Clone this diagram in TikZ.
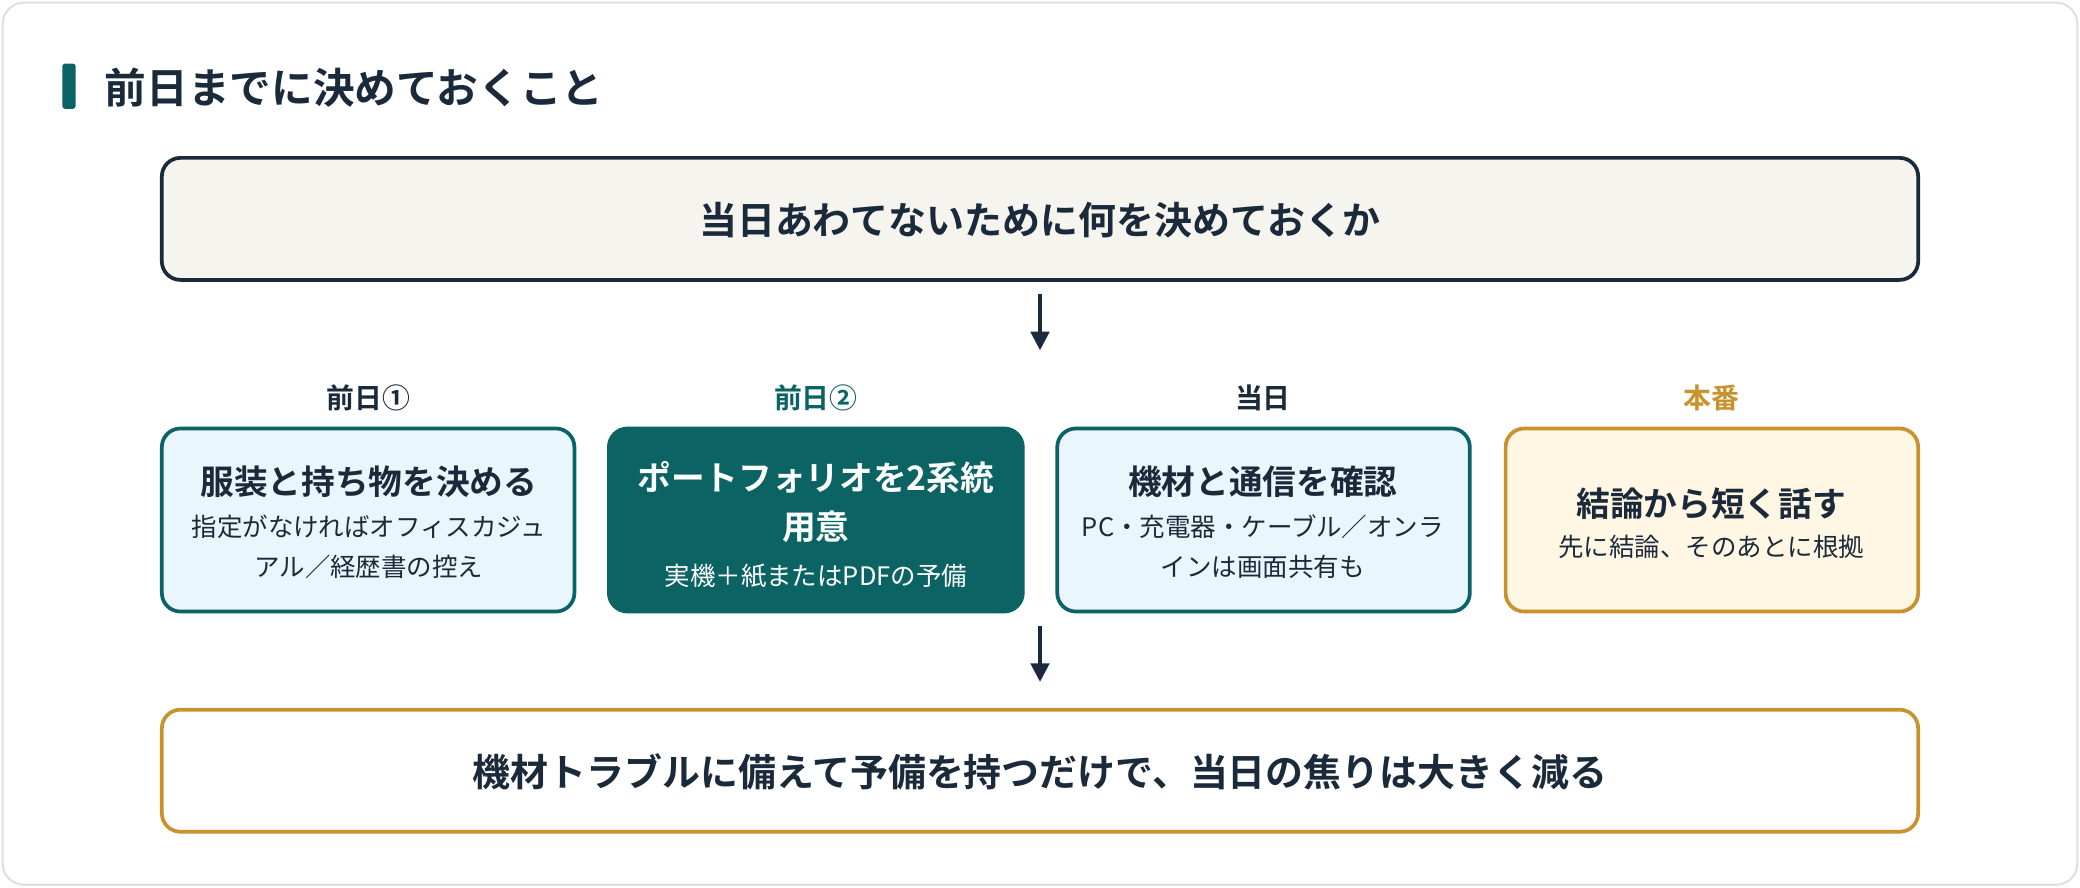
\documentclass[tikz,border=0pt]{standalone}
\usepackage{fontspec}
\setmainfont{Noto Sans CJK JP}[BoldFont={* Bold}]
\usetikzlibrary{arrows.meta}
\definecolor{navy}{HTML}{1B2A3A}
\definecolor{teal}{HTML}{0B6363}
\definecolor{gold}{HTML}{C8922E}
\definecolor{lblue}{HTML}{E9F7FC}
\definecolor{cream}{HTML}{FFF6E3}
\definecolor{grayf}{HTML}{F5F4EF}
\begin{document}
\begin{tikzpicture}[x=0.5pt,y=-0.5pt,
 box/.style={rounded corners=7pt,line width=1.4pt},
 ttl/.style={font=\bfseries\fontsize{12.7}{15}\selectfont,text=navy},
 sub/.style={font=\fontsize{9.6}{15}\selectfont,text=navy},
 lab/.style={font=\bfseries\fontsize{10.5}{12}\selectfont},
 arr/.style={-{Triangle[length=7pt,width=7pt]},line width=1.3pt,draw=navy}]
\useasboundingbox (0,0) rectangle (1568,669);
\draw[rounded corners=8pt,draw=black!12,fill=white,line width=0.8pt] (2,2) rectangle (1566,667);
\fill[teal,rounded corners=1pt] (47,48) rectangle (57,82);
\node[anchor=west,font=\bfseries\fontsize{15.7}{18}\selectfont,text=navy] (h) at (72,66) {前日までに決めておくこと};
\draw[box,draw=navy,fill=grayf] (122,119) rectangle (1446,211);
\node[font=\bfseries\fontsize{14.3}{17}\selectfont,text=navy] (top) at (784,166) {当日あわてないために何を決めておくか};
\coordinate (a1) at (784,222); \coordinate (a2) at (784,264);
\draw[arr] (a1) -- (a2);
\node[lab,text=navy] (l1) at (278,300) {前日①};
\node[lab,text=teal] (l2) at (615,300) {前日②};
\node[lab,text=navy] (l3) at (952,300) {当日};
\node[lab,text=gold] (l4) at (1290,300) {本番};
\draw[box,draw=teal,fill=lblue] (122,323) rectangle (433,461);
\draw[box,draw=teal,fill=teal] (459,323) rectangle (771,461);
\draw[box,draw=teal,fill=lblue] (797,323) rectangle (1108,461);
\draw[box,draw=gold,fill=cream] (1135,323) rectangle (1446,461);
\node[ttl] (t1) at (278,363) {服装と持ち物を決める};
\node[sub] (s1a) at (278,397) {指定がなければオフィスカジュ};
\node[sub] (s1b) at (278,427) {アル／経歴書の控え};
\node[ttl,text=white] (t2a) at (615,360) {ポートフォリオを2系統};
\node[ttl,text=white] (t2b) at (615,397) {用意};
\node[sub,text=white] (s2) at (615,434) {実機＋紙またはPDFの予備};
\node[ttl] (t3) at (952,363) {機材と通信を確認};
\node[sub] (s3a) at (952,397) {PC・充電器・ケーブル／オンラ};
\node[sub] (s3b) at (952,427) {インは画面共有も};
\node[ttl] (t4) at (1290,380) {結論から短く話す};
\node[sub] (s4) at (1290,412) {先に結論、そのあとに根拠};
\coordinate (b1) at (784,472); \coordinate (b2) at (784,514);
\draw[arr] (b1) -- (b2);
\draw[box,draw=gold,fill=white] (122,535) rectangle (1446,627);
\node[font=\bfseries\fontsize{14.3}{17}\selectfont,text=navy] (bot) at (784,582) {機材トラブルに備えて予備を持つだけで、当日の焦りは大きく減る};
\end{tikzpicture}
\end{document}
